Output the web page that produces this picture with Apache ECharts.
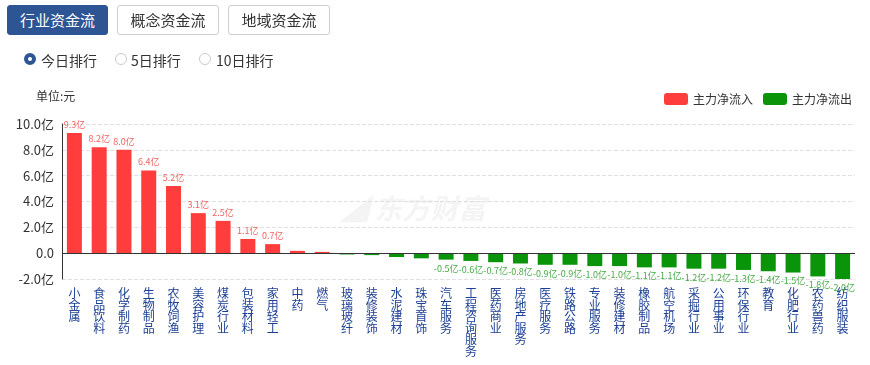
<!DOCTYPE html>
<html><head><meta charset="utf-8">
<script src="https://cdn.jsdelivr.net/npm/echarts@6/dist/echarts.min.js"></script>
<style>
html,body{margin:0;padding:0;background:#fff;width:870px;height:365px;overflow:hidden;font-family:"Noto Sans CJK SC","Noto Sans",sans-serif;}
#chart{position:absolute;left:0;top:0;width:870px;height:365px;}
.tab{position:absolute;top:5px;height:28px;line-height:28px;border:1px solid #c9ced8;border-radius:3px;background:#fff;color:#333;font-size:15px;text-align:center;box-sizing:content-box;}
.tab.on{background:#2d5593;border-color:#2d5593;color:#fff;}
.radio{position:absolute;top:51px;font-size:14px;color:#333;line-height:18px;}
.dot{position:absolute;top:53px;width:12px;height:12px;border-radius:50%;border:1px solid #c8c8c8;box-sizing:border-box;background:#fff;}
.dot.on{border:4px solid #2d5593;}
</style></head>
<body>
<div id="chart"></div>
<div class="tab on" style="left:7px;width:99px;">行业资金流</div>
<div class="tab" style="left:117px;width:100px;">概念资金流</div>
<div class="tab" style="left:228px;width:100px;">地域资金流</div>
<div class="dot on" style="left:24px;"></div><div class="radio" style="left:41px;">今日排行</div>
<div class="dot" style="left:115px;"></div><div class="radio" style="left:131px;">5日排行</div>
<div class="dot" style="left:199px;"></div><div class="radio" style="left:216px;">10日排行</div>
<script>
const categories = ['小金属','食品饮料','化学制药','生物制品','农牧饲渔','美容护理','煤炭行业','包装材料','家用轻工','中药','燃气','玻璃玻纤','装修装饰','水泥建材','珠宝首饰','汽车服务','工程咨询服务','医药商业','房地产服务','医疗服务','铁路公路','专业服务','装修建材','橡胶制品','航空机场','采掘行业','公用事业','环保行业','教育','化肥行业','农药兽药','纺织服装'];
const values = [9.3,8.2,8.0,6.4,5.2,3.1,2.5,1.1,0.7,0.18,0.1,-0.1,-0.15,-0.3,-0.4,-0.5,-0.6,-0.7,-0.8,-0.9,-0.9,-1.0,-1.0,-1.1,-1.1,-1.2,-1.2,-1.3,-1.4,-1.5,-1.8,-2.0];
const yTicks = [-2,0,2,4,6,8,10];
const legendNames = ['主力净流入','主力净流出'];

const RED = '#ff3d3d', GREEN = '#0a940a';
const inflow = values.map(v => v >= 0 ? v : '-');
const outflow = values.map(v => v < 0 ? v : '-');
const fmt = p => (Math.abs(p.value) < 0.45 ? '' : p.value.toFixed(1) + '亿');

const chart = echarts.init(document.getElementById('chart'), null, {renderer:'canvas'});
chart.setOption({
  animation:false,
  textStyle:{fontFamily:'"Noto Sans CJK SC","Noto Sans",sans-serif'},
  graphic:[
    {type:'text', left:36, top:90, style:{text:'单位:元', fontSize:12, fill:'#333', fontFamily:'"Noto Sans CJK SC",sans-serif'}},
    {type:'text', left:340, top:194, z:-1, style:{text:'◢ 东方财富', fontSize:28, fontWeight:'bold', fontStyle:'italic', fill:'rgba(0,0,0,0.045)', fontFamily:'"Noto Sans CJK SC",sans-serif'}}
  ],
  legend:{
    data:legendNames, right:13, top:88, itemWidth:24, itemHeight:12, itemGap:10, icon:'roundRect',
    textStyle:{fontSize:12, color:'#333'}
  },
  grid:{left:62, right:15, top:124, bottom:86},
  xAxis:{
    type:'category', data:categories,
    axisLine:{onZero:false, show:false}, axisTick:{show:false},
    axisLabel:{interval:0, margin:9, fontSize:12, lineHeight:11.5, color:'#1c3f94', verticalAlign:'top',
      formatter: v => v.split('').join('\n')}
  },
  yAxis:{
    type:'value', min:yTicks[0], max:yTicks[yTicks.length-1], interval:2,
    axisLine:{show:true, lineStyle:{color:'#333'}}, axisTick:{show:false},
    axisLabel:{fontSize:13, color:'#333', margin:8, formatter: v => v === 0 ? '0.0' : v.toFixed(1) + '亿'},
    splitLine:{show:true, lineStyle:{type:'dashed', color:'#e0e0e0'}}
  },
  series:[
    {name:legendNames[0], type:'bar', data:inflow, barWidth:15, barGap:'-100%', itemStyle:{color:RED},
     label:{show:true, position:'top', distance:4, fontSize:9, color:'#f06262', formatter:fmt},
     markLine:{silent:true, symbol:'none', label:{show:false}, lineStyle:{color:'#333', type:'solid', width:1},
       data:[{yAxis:0}]}},
    {name:legendNames[1], type:'bar', data:outflow, barWidth:15, barGap:'-100%', itemStyle:{color:GREEN},
     label:{show:true, position:'bottom', distance:4, fontSize:9, color:'#45aa45', formatter:fmt}}
  ]
});
</script>
</body></html>
